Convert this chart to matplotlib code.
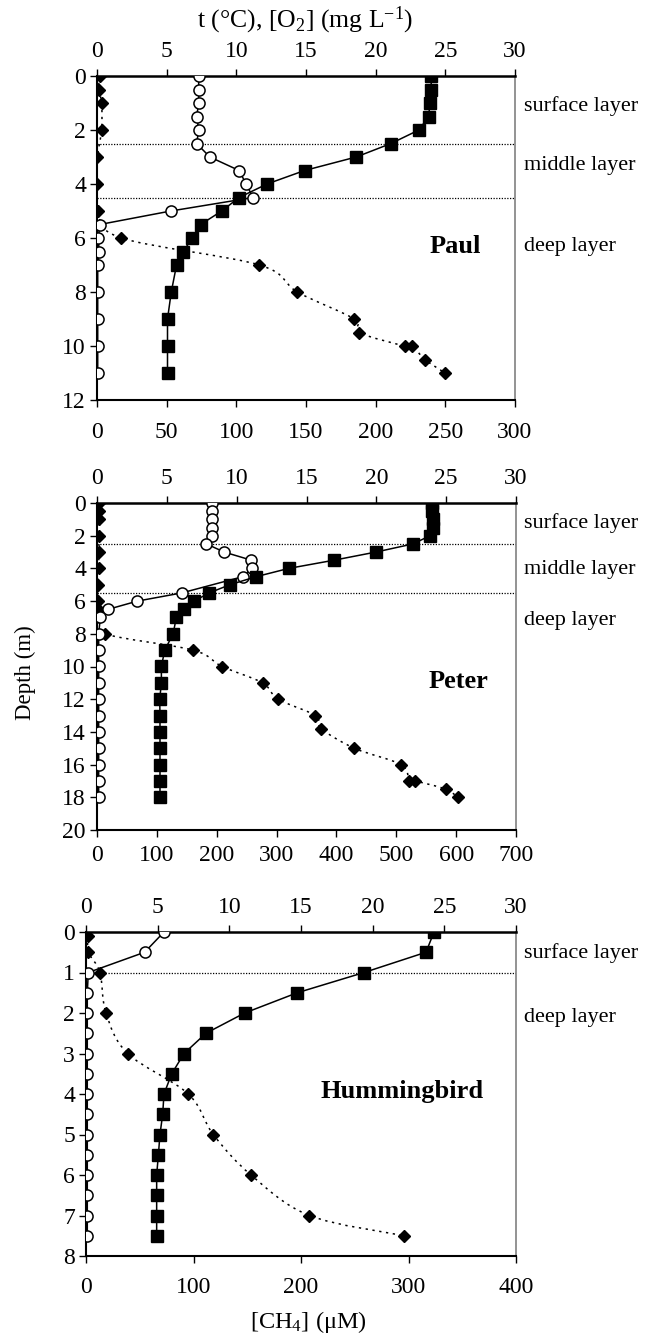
import matplotlib
matplotlib.use("Agg")
import matplotlib.pyplot as plt
from matplotlib.path import Path
from matplotlib.patches import PathPatch

plt.rcParams['font.family'] = ['Liberation Serif', 'DejaVu Serif']
plt.rcParams['mathtext.fontset'] = 'custom'
plt.rcParams['mathtext.rm'] = 'Liberation Serif'
plt.rcParams['mathtext.it'] = 'Liberation Serif:italic'

# ---- Paul ----
paul_t_depth = [0, 0.5, 1, 1.5, 2, 2.5, 3, 3.5, 4, 4.5, 5, 5.5, 6, 6.5, 7, 8, 9, 10, 11]
paul_temp = [23.97, 24.0, 23.9, 23.8, 23.1, 21.1, 18.6, 14.9, 12.2, 10.2, 8.95, 7.44, 6.84, 6.19, 5.71, 5.33, 5.06, 5.06, 5.06]
paul_o2_depth = [0, 0.5, 1, 1.5, 2, 2.5, 3, 3.5, 4, 4.5, 5, 5.5, 6, 6.5, 7, 8, 9, 10, 11]
paul_o2 = [7.3, 7.3, 7.3, 7.15, 7.3, 7.15, 8.1, 10.2, 10.7, 11.2, 5.3, 0.2, 0.1, 0.15, 0.05, 0.05, 0.05, 0.05, 0.05]
paul_ch4_depth = [0, 0.5, 1, 2, 3, 4, 5, 6, 7, 8, 9, 9.5, 10, 10, 10.5, 11]
paul_ch4 = [1.9, 1.2, 3.3, 3.3, 0.3, 0.3, 0.7, 17.5, 116.6, 143.8, 184.6, 188, 220.8, 226.3, 235.4, 249.8]

# ---- Peter ----
peter_t_depth = [0, 0.5, 1, 1.5, 2, 2.5, 3, 3.5, 4, 4.5, 5, 5.5, 6, 6.5, 7, 8, 9, 10, 11, 12, 13, 14, 15, 16, 17, 18]
peter_temp = [23.96, 24.0, 24.08, 24.08, 23.84, 22.64, 19.97, 16.96, 13.73, 11.42, 9.51, 8.03, 6.95, 6.21, 5.68,
              5.45, 4.85, 4.61, 4.61, 4.49, 4.51, 4.51, 4.51, 4.51, 4.51, 4.51]
peter_o2_depth = [0, 0.5, 1, 1.5, 2, 2.5, 3, 3.5, 4, 4.5, 5.5, 6, 6.5, 7, 8, 9, 10, 11, 12, 13, 14, 15, 16, 17, 18]
peter_o2 = [8.26, 8.26, 8.26, 8.26, 8.26, 7.83, 9.1, 11.06, 11.1, 10.46, 6.07, 2.89, 0.81, 0.24, 0.12,
            0.12, 0.12, 0.12, 0.12, 0.12, 0.12, 0.12, 0.12, 0.12, 0.12]
peter_ch4_depth = [0, 0.5, 1, 2, 3, 4, 5, 6, 6.5, 7, 8, 9, 10, 11, 12, 13, 13.8, 15, 16, 17, 17, 17.5, 18]
peter_ch4 = [4, 4, 4, 4, 3, 3, 1.5, 1.5, 1.5, 4, 12.8, 160.5, 209, 276.5, 302.7, 365, 374.6, 430, 507.8,
             521.7, 531, 582.5, 602.6]

# ---- Hummingbird ----
hum_t_depth = [0, 0.5, 1, 1.5, 2, 2.5, 3, 3.5, 4, 4.5, 5, 5.5, 6, 6.5, 7, 7.5]
hum_temp = [24.28, 23.72, 19.4, 14.74, 11.07, 8.37, 6.84, 5.98, 5.44, 5.35, 5.16, 5.05, 4.93, 4.93, 4.93, 4.93]
hum_o2_depth = [0, 0.5, 1, 1.5, 2, 2.5, 3, 3.5, 4, 4.5, 5, 5.5, 6, 6.5, 7, 7.5]
hum_o2 = [5.44, 4.09, 0.16, 0.09, 0.09, 0.09, 0.09, 0.09, 0.09, 0.09, 0.09, 0.09, 0.09, 0.09, 0.09, 0.09]
hum_ch4_depth = [0.1, 0.5, 1, 2, 3, 4, 5, 6, 7, 7.5]
hum_ch4 = [2.2, 2.2, 13, 18.6, 38.8, 95.2, 118.4, 153.5, 207.8, 296]


def smooth_path(xs, ys):
    # Excel-style smoothed line: cubic bezier through the points (Catmull-Rom)
    pts = list(zip(xs, ys))
    n = len(pts)
    verts = [pts[0]]
    codes = [Path.MOVETO]
    for i in range(n - 1):
        p0 = pts[max(i - 1, 0)]
        p1 = pts[i]
        p2 = pts[i + 1]
        p3 = pts[min(i + 2, n - 1)]
        c1 = (p1[0] + (p2[0] - p0[0]) / 6, p1[1] + (p2[1] - p0[1]) / 6)
        c2 = (p2[0] - (p3[0] - p1[0]) / 6, p2[1] - (p3[1] - p1[1]) / 6)
        verts += [c1, c2, p2]
        codes += [Path.CURVE4] * 3
    return Path(verts, codes)


W, H = 645, 1338
fig = plt.figure(figsize=(W / 100, H / 100), dpi=100)

panels = [
    dict(name="Paul", rect=(97, 76, 515, 400), ymax=12, ystep=2, ch4max=300, ch4step=50,
         t=(paul_t_depth, paul_temp), o2=(paul_o2_depth, paul_o2), ch4=(paul_ch4_depth, paul_ch4),
         lines=[2.5, 4.5], layers=[("surface layer", 1.1), ("middle layer", 3.3), ("deep layer", 6.3)],
         name_pos=(0.856, 6.33), bpad=11, tpad=5),
    dict(name="Peter", rect=(97, 503, 516, 830), ymax=20, ystep=2, ch4max=700, ch4step=100,
         t=(peter_t_depth, peter_temp), o2=(peter_o2_depth, peter_o2), ch4=(peter_ch4_depth, peter_ch4),
         lines=[2.5, 5.5], layers=[("surface layer", 1.22), ("middle layer", 4.04), ("deep layer", 7.16)],
         name_pos=(0.862, 10.9), bpad=6, tpad=5),
    dict(name="Hummingbird", rect=(86, 932, 516, 1256), ymax=8, ystep=1, ch4max=400, ch4step=100,
         t=(hum_t_depth, hum_temp), o2=(hum_o2_depth, hum_o2), ch4=(hum_ch4_depth, hum_ch4),
         lines=[1.0], layers=[("surface layer", 0.52), ("deep layer", 2.1)],
         name_pos=(0.735, 3.95), bpad=10, tpad=5),
]

fs = 17
for p in panels:
    x0, y0, x1, y1 = p["rect"]
    ax = fig.add_axes([x0 / W, 1 - y1 / H, (x1 - x0) / W, (y1 - y0) / H])
    ax.set_ylim(p["ymax"], 0)
    ax.set_xlim(0, p["ch4max"])
    ax.set_xticks(range(0, p["ch4max"] + 1, p["ch4step"]))
    ax.set_yticks(range(0, p["ymax"] + 1, p["ystep"]))
    ax.tick_params(axis='x', direction='out', length=5, width=1, labelsize=fs, pad=p["bpad"])
    ax.tick_params(axis='y', direction='out', length=5, width=1, labelsize=fs, pad=3)
    for side in ("left", "bottom"):
        ax.spines[side].set_linewidth(1.5)
    ax.spines["right"].set_color("#808080")
    ax.spines["right"].set_linewidth(1.2)
    ax.spines["top"].set_visible(False)

    for d in p["lines"]:
        ax.axhline(d, color="black", lw=0.9, ls=(0, (1, 1.2)), zorder=1)

    ch4_line = PathPatch(smooth_path(p["ch4"][1], p["ch4"][0]), fill=False, edgecolor="black",
                         lw=1.1, ls=(0, (1.5, 3)), zorder=3)
    ax.add_patch(ch4_line)
    ax.plot(p["ch4"][1], p["ch4"][0], ls="none", marker="D", ms=6, mfc="black", mec="black", zorder=3)

    axt = ax.twiny()
    axt.set_xlim(0, 30)
    axt.set_xticks(range(0, 31, 5))
    axt.tick_params(axis='x', direction='out', length=5, width=1, labelsize=fs, pad=p["tpad"])
    axt.spines["top"].set_linewidth(1.8)
    for side in ("left", "bottom", "right"):
        axt.spines[side].set_visible(False)

    axt.plot(p["o2"][1], p["o2"][0], color="black", lw=1.1, marker="o", ms=8,
             mfc="white", mec="black", mew=1.1, zorder=4)
    axt.plot(p["t"][1], p["t"][0], color="black", lw=1.1, marker="s", ms=8.5,
             mfc="black", mec="black", zorder=5)

    tr = ax.get_yaxis_transform()
    xt = (524 - x0) / (x1 - x0)
    for label, d in p["layers"]:
        ax.text(xt, d, label, transform=tr, fontsize=16, ha="left", va="center", clip_on=False)
    ax.text(p["name_pos"][0], p["name_pos"][1], p["name"], transform=tr, fontsize=19,
            fontweight="bold", ha="center", va="center")

fig.text(305 / W, 1 - 20 / H, r"t (°C), [O$_2$] (mg L$^{\mathrm{-1}}$)", fontsize=18.5, ha="center", va="center")
fig.text(308 / W, 1 - 1322 / H, "[CH$_4$] (μM)", fontsize=17.5, ha="center", va="center")
fig.text(25 / W, 1 - 673 / H, "Depth (m)", fontsize=16.5, ha="center", va="center", rotation=90)

fig.savefig("out.png", dpi=100)
